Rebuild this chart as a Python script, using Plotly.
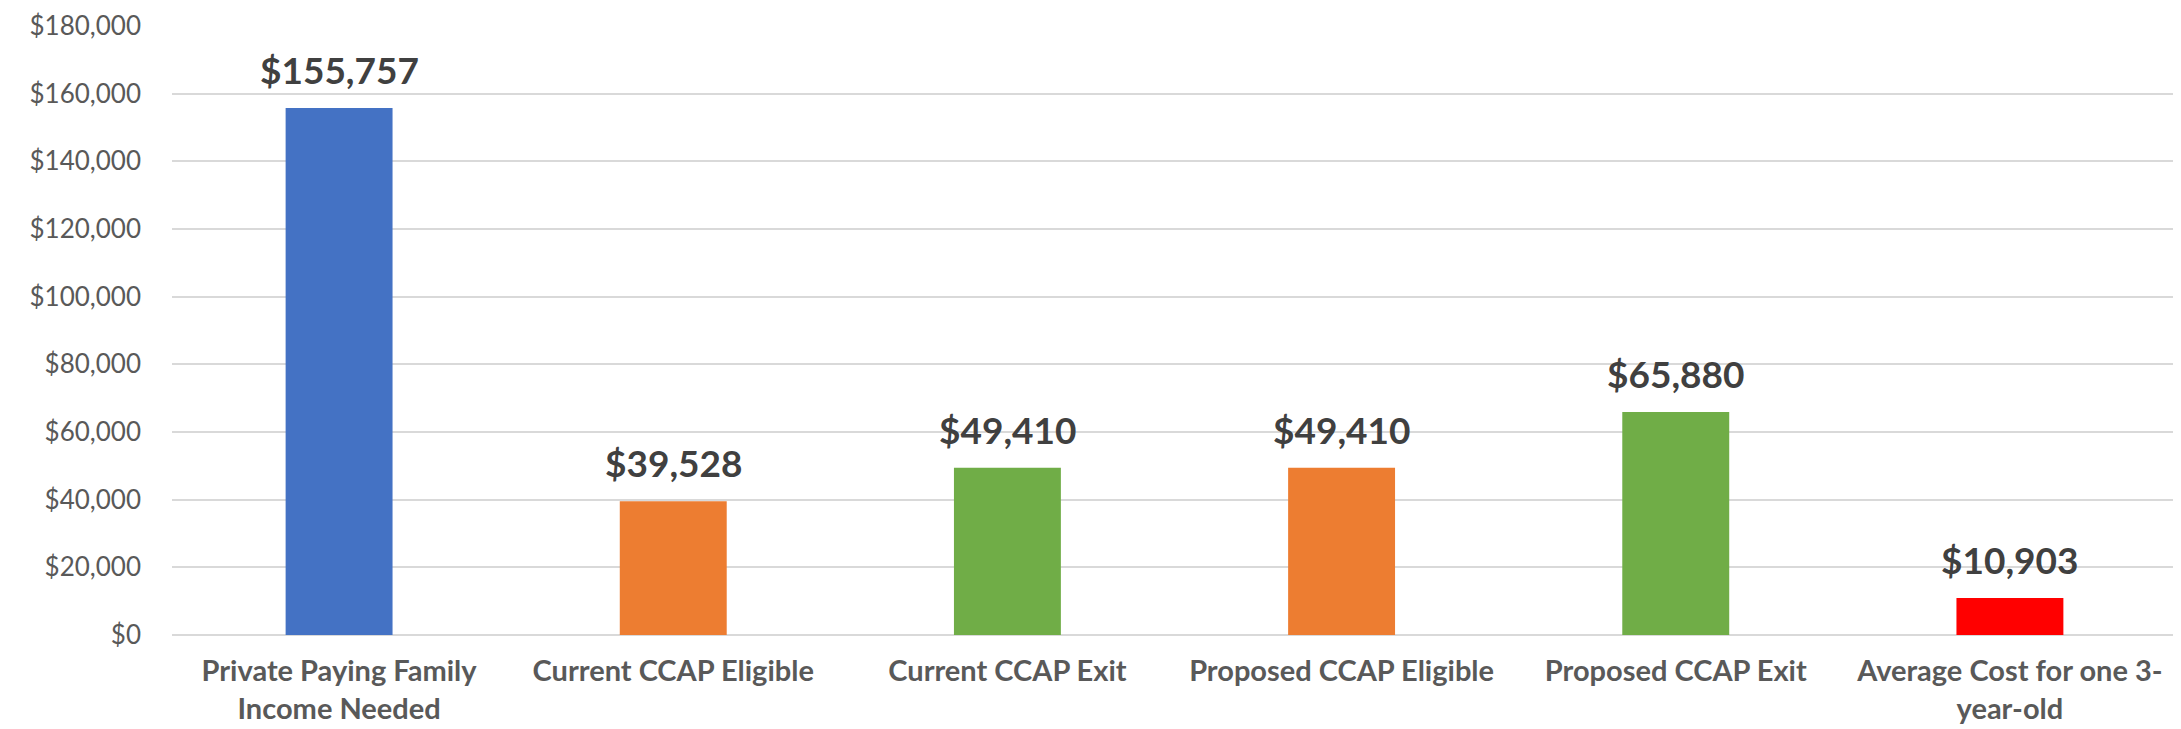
import plotly.graph_objects as go

categories = [
    "Private Paying Family<br>Income Needed",
    "Current CCAP Eligible",
    "Current CCAP Exit",
    "Proposed CCAP Eligible",
    "Proposed CCAP Exit",
    "Average Cost for one 3-<br>year-old",
]
values = [155757, 39528, 49410, 49410, 65880, 10903]
bar_colors = ["#4472C4", "#ED7D31", "#70AD47", "#ED7D31", "#70AD47", "#FF0000"]
y_ticks = [0, 20000, 40000, 60000, 80000, 100000, 120000, 140000, 160000, 180000]

FONT = "Lato"

fig = go.Figure()
fig.add_trace(go.Bar(
    x=categories,
    y=values,
    marker=dict(color=bar_colors, line=dict(width=0)),
    hoverinfo="skip",
))

for c, v in zip(categories, values):
    fig.add_annotation(
        x=c, y=v, text="${:,}".format(v), showarrow=False,
        xanchor="center", yanchor="bottom", yshift=14,
        font=dict(family=FONT, size=37, color="#404040", weight="bold"),
    )

fig.update_layout(
    width=2173, height=721,
    margin=dict(l=164, r=4, t=18, b=94),
    paper_bgcolor="white", plot_bgcolor="white",
    bargap=0.68,
    showlegend=False,
    font=dict(family=FONT),
)
fig.update_yaxes(
    range=[0, 180000],
    tickvals=y_ticks,
    ticktext=["${:,}".format(t) for t in y_ticks],
    tickfont=dict(family=FONT, size=26, color="#595959"),
    showgrid=True, gridcolor="#D9D9D9", gridwidth=2,
    zeroline=True, zerolinecolor="#D9D9D9", zerolinewidth=2,
    showline=False,
    ticklabelstandoff=30,
    ticklabeloverflow="allow",
    automargin=False,
)
fig.update_xaxes(
    tickfont=dict(family=FONT, size=29, color="#595959", weight="bold"),
    showline=False, showgrid=False,
    tickangle=0,
    ticklabelstandoff=16,
    ticklabeloverflow="allow",
    automargin=False,
)

fig.write_html("out.html")
